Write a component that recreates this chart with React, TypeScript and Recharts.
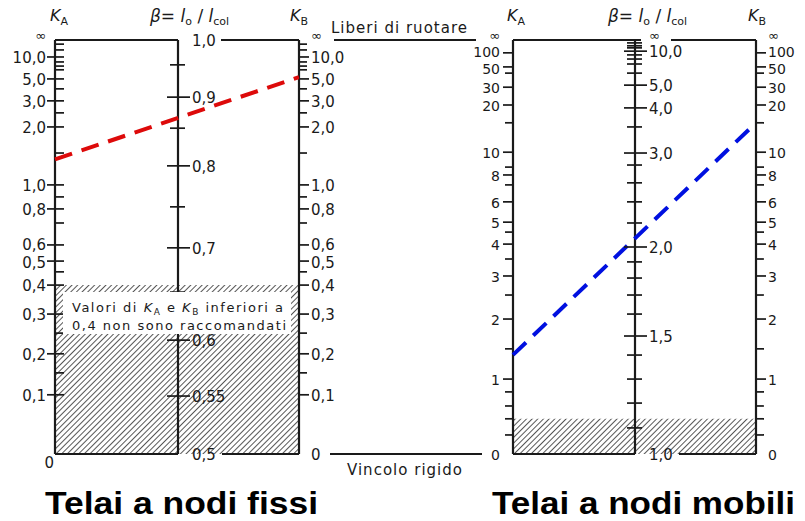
import React from "react";
import {
  ComposedChart,
  Line,
  ReferenceArea,
  ReferenceLine,
  Scatter,
  XAxis,
  YAxis,
} from "recharts";

type Tick = { v: number; pos: number; label?: string };

// graduations of the nomograph: pos = height above the zero line, in % of the axis length
const FIXED_K: Tick[] = [
  { v: Infinity, pos: 100, label: "∞" },
  { v: 50, pos: 99.0 },
  { v: 20, pos: 97.6 },
  { v: 10, pos: 95.9, label: "10,0" },
  { v: 8, pos: 94.7 },
  { v: 7, pos: 93.7 },
  { v: 6, pos: 92.8 },
  { v: 5, pos: 90.6, label: "5,0" },
  { v: 4, pos: 88.2 },
  { v: 3, pos: 85.3, label: "3,0" },
  { v: 2.5, pos: 82.4 },
  { v: 2, pos: 79.0, label: "2,0" },
  { v: 1.5, pos: 72.7 },
  { v: 1, pos: 65.0, label: "1,0" },
  { v: 0.9, pos: 62.1 },
  { v: 0.8, pos: 59.2, label: "0,8" },
  { v: 0.7, pos: 55.8 },
  { v: 0.6, pos: 50.5, label: "0,6" },
  { v: 0.5, pos: 46.6, label: "0,5" },
  { v: 0.45, pos: 44.0 },
  { v: 0.4, pos: 40.8, label: "0,4" },
  { v: 0.3, pos: 33.8, label: "0,3" },
  { v: 0.25, pos: 29.2 },
  { v: 0.2, pos: 24.2, label: "0,2" },
  { v: 0.15, pos: 19.6 },
  { v: 0.1, pos: 14.3, label: "0,1" },
  { v: 0, pos: 0, label: "0" },
];

const FIXED_BETA: Tick[] = [
  { v: 1.0, pos: 100, label: "1,0" },
  { v: 0.95, pos: 94.0 },
  { v: 0.9, pos: 86.2, label: "0,9" },
  { v: 0.85, pos: 78.7 },
  { v: 0.8, pos: 69.6, label: "0,8" },
  { v: 0.75, pos: 59.7 },
  { v: 0.7, pos: 49.8, label: "0,7" },
  { v: 0.65, pos: 39.1 },
  { v: 0.6, pos: 27.5, label: "0,6" },
  { v: 0.55, pos: 14.0, label: "0,55" },
  { v: 0.5, pos: 0, label: "0,5" },
];

const SWAY_K: Tick[] = [
  { v: Infinity, pos: 100, label: "∞" },
  { v: 100, pos: 96.9, label: "100" },
  { v: 50, pos: 93.5, label: "50" },
  { v: 40, pos: 92.0 },
  { v: 30, pos: 88.6, label: "30" },
  { v: 20, pos: 84.3, label: "20" },
  { v: 15, pos: 80.0 },
  { v: 10, pos: 72.9, label: "10" },
  { v: 9, pos: 69.3 },
  { v: 8, pos: 67.4, label: "8" },
  { v: 7, pos: 65.0 },
  { v: 6, pos: 60.9, label: "6" },
  { v: 5, pos: 56.0, label: "5" },
  { v: 4.5, pos: 53.6 },
  { v: 4, pos: 50.7, label: "4" },
  { v: 3.5, pos: 47.1 },
  { v: 3, pos: 43.0, label: "3" },
  { v: 2.5, pos: 38.4 },
  { v: 2, pos: 32.6, label: "2" },
  { v: 1.5, pos: 25.4 },
  { v: 1, pos: 18.1, label: "1" },
  { v: 0.8, pos: 15.0 },
  { v: 0.6, pos: 11.6 },
  { v: 0.4, pos: 8.5 },
  { v: 0.2, pos: 4.6 },
  { v: 0, pos: 0, label: "0" },
];

const SWAY_BETA: Tick[] = [
  { v: Infinity, pos: 100, label: "∞" },
  { v: 20, pos: 99.3 },
  { v: 15, pos: 98.6 },
  { v: 12, pos: 98.1 },
  { v: 10, pos: 97.3, label: "10,0" },
  { v: 9, pos: 96.4 },
  { v: 8, pos: 95.4 },
  { v: 7, pos: 94.2 },
  { v: 6, pos: 92.0 },
  { v: 5, pos: 89.1, label: "5,0" },
  { v: 4, pos: 83.6, label: "4,0" },
  { v: 3.5, pos: 79.0 },
  { v: 3, pos: 72.7, label: "3,0" },
  { v: 2.8, pos: 69.8 },
  { v: 2.6, pos: 65.5 },
  { v: 2.4, pos: 60.9 },
  { v: 2.2, pos: 55.8 },
  { v: 2, pos: 50.0, label: "2,0" },
  { v: 1.9, pos: 46.4 },
  { v: 1.8, pos: 42.5 },
  { v: 1.7, pos: 38.4 },
  { v: 1.6, pos: 33.8 },
  { v: 1.5, pos: 28.5, label: "1,5" },
  { v: 1.4, pos: 23.9 },
  { v: 1.3, pos: 18.1 },
  { v: 1.2, pos: 12.3 },
  { v: 1.1, pos: 6.3 },
  { v: 1, pos: 0, label: "1,0" },
];

// worked examples drawn on the two charts (K_A, K_B)
const FIXED_EXAMPLE = { kA: 1.4, kB: 5.2 };
const SWAY_EXAMPLE = { kA: 1.4, kB: 15 };

// limit below which K values are not recommended
const K_LIMIT = 0.4;

// x position of the three scales of each chart
const FIXED_AXES = { kA: 55, beta: 178, kB: 299 };
const SWAY_AXES = { kA: 513, beta: 635, kB: 756 };

const INK = "#1a1a1a";
const W = 805;
const H = 521;
const MARGIN = { top: 40, right: 0, bottom: 67, left: 0 };
const PX_PER_UNIT = (H - MARGIN.top - MARGIN.bottom) / 100;

function posOf(scale: Tick[], v: number): number {
  for (let i = 0; i < scale.length - 1; i++) {
    const a = scale[i];
    const b = scale[i + 1];
    if (isFinite(a.v) && v <= a.v && v >= b.v) {
      const t = (v - b.v) / (a.v - b.v);
      return b.pos + t * (a.pos - b.pos);
    }
  }
  return 0;
}

interface TickStyle {
  major: [number, number];
  minor: [number, number];
  labelDx: number;
  anchor: "start" | "end";
  fontSize: number;
  zeroDrop?: boolean;
}

const LEFT_K: TickStyle = { major: [-8, 9], minor: [0, 9], labelDx: -9, anchor: "end", fontSize: 15, zeroDrop: true };
const RIGHT_K: TickStyle = { major: [0, 10], minor: [0, 8], labelDx: 12, anchor: "start", fontSize: 15 };
const MID: TickStyle = { major: [-11, 12], minor: [-8, 7], labelDx: 14, anchor: "start", fontSize: 15 };
const OUT_LEFT_K: TickStyle = { major: [-10, 0], minor: [-8, 0], labelDx: -13, anchor: "end", fontSize: 14 };
const OUT_RIGHT_K: TickStyle = { major: [0, 10], minor: [0, 8], labelDx: 12, anchor: "start", fontSize: 14 };

function tickShape(style: TickStyle) {
  return (props: any) => {
    const { cx, cy, payload } = props;
    const major = payload.label !== undefined;
    const [a, b] = major ? style.major : style.minor;
    const atEnd = payload.pos === 100 || payload.pos === 0;
    const drop = style.zeroDrop && payload.v === 0;
    const inf = payload.v === Infinity;
    return (
      <g>
        {!atEnd && (
          <line x1={cx + a} x2={cx + b} y1={cy} y2={cy} stroke={INK} strokeWidth={1.7} />
        )}
        {major && (
          <text
            x={drop ? cx - 1 : cx + style.labelDx}
            y={drop ? cy + 9 : inf ? cy - 5 : cy + 1 + payload.nudge}
            textAnchor={style.anchor}
            dominantBaseline="central"
            fontSize={inf ? 13 : style.fontSize}
            fill={INK}
          >
            {payload.label}
          </text>
        )}
      </g>
    );
  };
}

// spread crowded labels a little so that they do not run into each other
function scaleData(scale: Tick[], x: number, minGap: number) {
  const rows = scale.map((t) => ({ x, y: t.pos, v: t.v, pos: t.pos, label: t.label, nudge: 0 }));
  const labelled = rows.filter((r) => r.label !== undefined && isFinite(r.v) && r.pos > 0);
  for (let i = 0; i < labelled.length - 1; i++) {
    const gap = (labelled[i].pos - labelled[i + 1].pos) * PX_PER_UNIT;
    if (gap < minGap) {
      labelled[i].nudge -= (minGap - gap) / 2;
      labelled[i + 1].nudge += (minGap - gap) / 2;
    }
  }
  return rows;
}

function exampleData(scale: Tick[], axes: { kA: number; kB: number }, ex: { kA: number; kB: number }) {
  return [
    { x: axes.kA, y: posOf(scale, ex.kA) },
    { x: axes.kB, y: posOf(scale, ex.kB) },
  ];
}

function hLine(x1: number, x2: number, y: number, key: string) {
  return (
    <ReferenceLine
      key={key}
      segment={[
        { x: x1, y },
        { x: x2, y },
      ]}
      stroke={INK}
      strokeWidth={1.8}
    />
  );
}

function KHeader({ x, sub }: { x: number; sub: string }) {
  return (
    <text x={x} y={21} fontSize={16} fill={INK}>
      <tspan fontStyle="italic">K</tspan>
      <tspan fontSize={11} dy={4}>
        {sub}
      </tspan>
    </text>
  );
}

function BetaHeader({ x }: { x: number }) {
  return (
    <text x={x} y={22} fontSize={17} fill={INK}>
      <tspan fontStyle="italic">β</tspan>
      <tspan>= </tspan>
      <tspan fontStyle="italic">l</tspan>
      <tspan fontSize={11} dy={3}>o</tspan>
      <tspan dy={-3}> / </tspan>
      <tspan fontStyle="italic">l</tspan>
      <tspan fontSize={11} dy={3}>col</tspan>
    </text>
  );
}

export default function App() {
  const fixedLimit = posOf(FIXED_K, K_LIMIT);
  const swayLimit = posOf(SWAY_K, K_LIMIT);

  return (
    <div style={{ position: "absolute", left: 0, top: 0, width: W, height: H, background: "#fff", fontFamily: "'DejaVu Sans', sans-serif" }}>
      <svg width={0} height={0} style={{ position: "absolute" }}>
        <defs>
          <pattern id="hatch" patternUnits="userSpaceOnUse" width={4} height={4} patternTransform="rotate(45)">
            <line x1={0} y1={0} x2={0} y2={4} stroke="#1e1e1e" strokeWidth={1.5} />
          </pattern>
        </defs>
      </svg>

      <ComposedChart width={W} height={H} margin={MARGIN}>
        <XAxis type="number" dataKey="x" domain={[0, W]} hide />
        <YAxis type="number" dataKey="y" domain={[0, 100]} hide />

        {/* not-recommended zones */}
        <ReferenceArea x1={FIXED_AXES.kA} x2={FIXED_AXES.kB} y1={0} y2={fixedLimit} fill="url(#hatch)" fillOpacity={1} stroke="none" />
        <ReferenceArea x1={SWAY_AXES.kA} x2={SWAY_AXES.kB} y1={0} y2={swayLimit} fill="url(#hatch)" fillOpacity={1} stroke="none" />

        {/* scale lines */}
        {[FIXED_AXES.kA, FIXED_AXES.beta, FIXED_AXES.kB, SWAY_AXES.kA, SWAY_AXES.beta, SWAY_AXES.kB].map((x) => (
          <ReferenceLine key={x} x={x} stroke={INK} strokeWidth={2.2} />
        ))}

        {/* top: free to rotate, bottom: rigid restraint */}
        {hLine(FIXED_AXES.kA, FIXED_AXES.beta, 100, "t1")}
        {hLine(221, FIXED_AXES.kB, 100, "t2")}
        {hLine(334, 476, 100, "t3")}
        {hLine(SWAY_AXES.kA, 641, 100, "t4")}
        {hLine(671, SWAY_AXES.kB, 100, "t5")}
        {hLine(FIXED_AXES.kA, FIXED_AXES.beta, 0, "b1")}
        {hLine(222, FIXED_AXES.kB, 0, "b2")}
        {hLine(330, 482, 0, "b3")}
        {hLine(SWAY_AXES.kA, SWAY_AXES.beta, 0, "b4")}
        {hLine(679, SWAY_AXES.kB, 0, "b5")}

        <Scatter data={scaleData(FIXED_K, FIXED_AXES.kA, 18)} shape={tickShape(LEFT_K)} isAnimationActive={false} />
        <Scatter data={scaleData(FIXED_BETA, FIXED_AXES.beta, 18)} shape={tickShape(MID)} isAnimationActive={false} />
        <Scatter data={scaleData(FIXED_K, FIXED_AXES.kB, 18)} shape={tickShape(RIGHT_K)} isAnimationActive={false} />
        <Scatter data={scaleData(SWAY_K, SWAY_AXES.kA, 17)} shape={tickShape(OUT_LEFT_K)} isAnimationActive={false} />
        <Scatter data={scaleData(SWAY_BETA, SWAY_AXES.beta, 18)} shape={tickShape(MID)} isAnimationActive={false} />
        <Scatter data={scaleData(SWAY_K, SWAY_AXES.kB, 17)} shape={tickShape(OUT_RIGHT_K)} isAnimationActive={false} />

        <Line
          data={exampleData(FIXED_K, FIXED_AXES, FIXED_EXAMPLE)}
          dataKey="y"
          type="linear"
          stroke="#dd0a0a"
          strokeWidth={4}
          strokeDasharray="18 10"
          dot={false}
          isAnimationActive={false}
        />
        <Line
          data={exampleData(SWAY_K, SWAY_AXES, SWAY_EXAMPLE)}
          dataKey="y"
          type="linear"
          stroke="#0010e0"
          strokeWidth={4}
          strokeDasharray="18 10"
          dot={false}
          isAnimationActive={false}
        />
      </ComposedChart>

      <svg width={W} height={H} style={{ position: "absolute", left: 0, top: 0, pointerEvents: "none" }} fontFamily="'DejaVu Sans', sans-serif">
        <KHeader x={50} sub="A" />
        <BetaHeader x={150} />
        <KHeader x={290} sub="B" />
        <KHeader x={507} sub="A" />
        <BetaHeader x={608} />
        <KHeader x={748} sub="B" />

        <text x={331} y={33} fontSize={15} fill={INK} textLength={136}>Liberi di ruotare</text>
        <text x={347} y={475} fontSize={15} fill={INK} textLength={115}>Vincolo rigido</text>

        <rect x={63} y={292} width={228} height={42} fill="#fff" />
        <text x={72} y={312} fontSize={13} fill={INK} textLength={211}>
          Valori di <tspan fontStyle="italic">K</tspan>
          <tspan fontSize={9} dy={3}>A</tspan>
          <tspan dy={-3}> e </tspan>
          <tspan fontStyle="italic">K</tspan>
          <tspan fontSize={9} dy={3}>B</tspan>
          <tspan dy={-3}> inferiori a</tspan>
        </text>
        <text x={72} y={330} fontSize={13} fill={INK} textLength={214}>0,4 non sono raccomandati</text>

        <text x={45} y={514} fontSize={32} fontWeight="bold" fontFamily="'Liberation Sans', Arial, sans-serif" fill="#000" textLength={273} lengthAdjust="spacingAndGlyphs">
          Telai a nodi fissi
        </text>
        <text x={492} y={514} fontSize={32} fontWeight="bold" fontFamily="'Liberation Sans', Arial, sans-serif" fill="#000" textLength={303} lengthAdjust="spacingAndGlyphs">
          Telai a nodi mobili
        </text>
      </svg>
    </div>
  );
}
